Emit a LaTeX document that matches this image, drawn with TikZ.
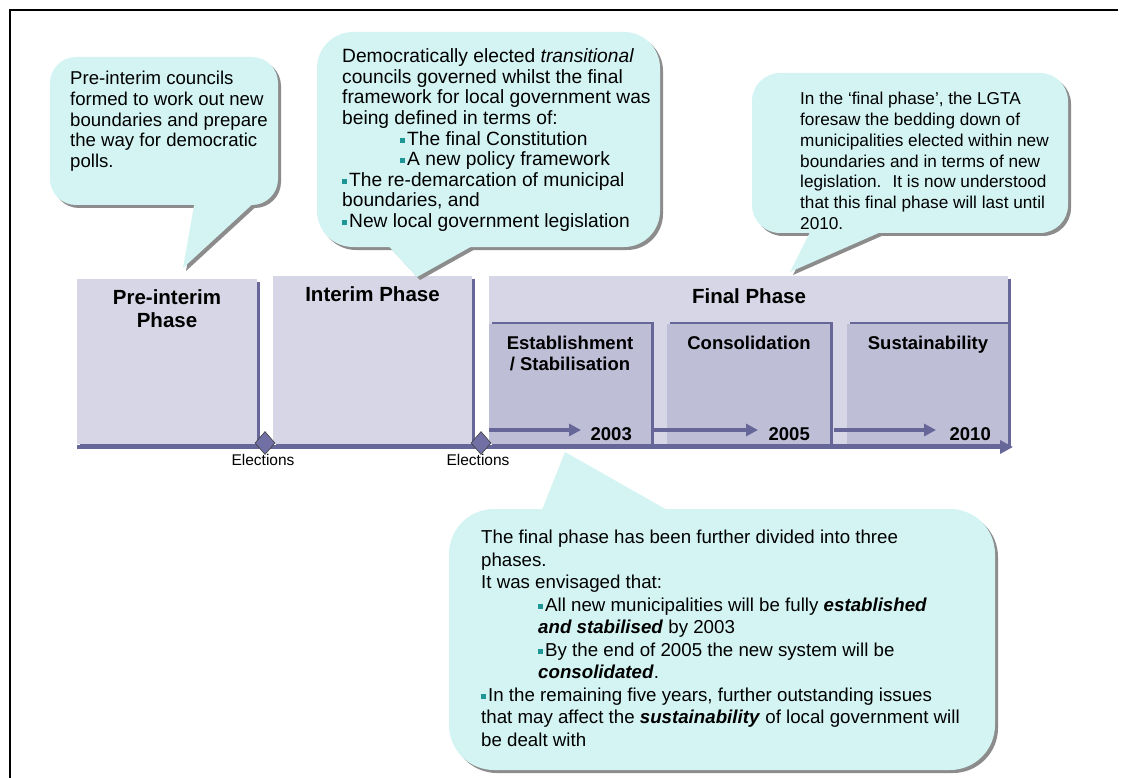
\documentclass[tikz,border=0pt]{standalone}
\usepackage{fontspec}
\setmainfont{Liberation Sans}
\usetikzlibrary{arrows.meta,shapes.geometric}
\definecolor{callfill}{RGB}{211,244,243}
\definecolor{shadowc}{RGB}{140,140,140}
\definecolor{boxlight}{RGB}{214,214,230}
\definecolor{boxdark}{RGB}{190,190,215}
\definecolor{darkc}{RGB}{102,102,153}
\definecolor{diamondc}{RGB}{112,112,165}
\definecolor{bulletc}{RGB}{30,150,150}
\newcommand{\bsq}{{\color{bulletc}\rule[2.5pt]{5pt}{5pt}}\hspace{2pt}}
\tikzset{
  x=1pt, y=-1pt,
  bodytext/.style={anchor=base west, inner sep=0pt, font=\fontsize{18.6}{20.6}\selectfont},
  bodytextm/.style={anchor=base west, inner sep=0pt, font=\fontsize{19.2}{20.6}\selectfont},
  bodytexts/.style={anchor=base west, inner sep=0pt, font=\fontsize{17.2}{20.7}\selectfont},
  bodytextb/.style={anchor=base west, inner sep=0pt, font=\fontsize{18.7}{22.5}\selectfont},
  headtext/.style={anchor=base, inner sep=0pt, font=\fontsize{20.5}{23}\selectfont\bfseries},
  subtext/.style={anchor=base, inner sep=0pt, font=\fontsize{18.5}{21}\selectfont\bfseries},
  yeartext/.style={anchor=base east, inner sep=0pt, font=\fontsize{18.5}{21}\selectfont\bfseries},
  electext/.style={anchor=base, inner sep=0pt, font=\fontsize{15.5}{18}\selectfont},
  axisline/.style={draw=darkc, line width=4.5pt, -{Triangle[length=13pt,width=13pt]}},
  subarrow/.style={draw=darkc, line width=4pt, -{Triangle[length=12pt,width=12pt]}},
  elecmark/.style={diamond, fill=diamondc, draw=black!75, line width=0.6pt, minimum width=20pt, minimum height=23pt, inner sep=0pt},
}
\begin{document}
\begin{tikzpicture}
\useasboundingbox (0,0) rectangle (1127,778);
% frame
\draw[line width=2.5pt] (10,778) -- (10,10) -- (1118,10);

% phase boxes with shadows
\fill[darkc] (80,282) rectangle (260,448);
\fill[boxlight] (77,279) rectangle (257,444);
\fill[darkc] (276,279) rectangle (475,448);
\fill[boxlight] (273,276) rectangle (472,444);
\fill[darkc] (492,279) rectangle (1011,448);
\fill[boxlight] (489,276) rectangle (1008,444);
% sub-boxes
\fill[darkc] (492,322) rectangle (654,444);
\fill[boxdark] (489,323.5) rectangle (651,444);
\fill[darkc] (670,322) rectangle (833,444);
\fill[boxdark] (667,323.5) rectangle (830,444);
\fill[darkc] (850,322) rectangle (1011,444);
\fill[boxdark] (847,323.5) rectangle (1008,444);

% axis
\coordinate (axS) at (77,447);
\coordinate (axE) at (1013,447);
\draw[axisline] (axS) -- (axE);

% sub arrows
\coordinate (a1s) at (489,430); \coordinate (a1e) at (581,430);
\coordinate (a2s) at (654,430); \coordinate (a2e) at (758,430);
\coordinate (a3s) at (834,430); \coordinate (a3e) at (936,430);
\draw[subarrow] (a1s) -- (a1e);
\draw[subarrow] (a2s) -- (a2e);
\draw[subarrow] (a3s) -- (a3e);

% labels in boxes
\node[headtext] (preL) at (167,304) {\begin{tabular}[t]{@{}c@{}}Pre-interim\\Phase\end{tabular}};
\node[headtext] (intL) at (372.5,301) {Interim Phase};
\node[headtext] (finL) at (749,303) {Final Phase};
\node[subtext] (estL) at (570,349) {\begin{tabular}[t]{@{}c@{}}Establishment\\/ Stabilisation\end{tabular}};
\node[subtext] (conL) at (749,349) {Consolidation};
\node[subtext] (susL) at (928,349) {Sustainability};
\node[yeartext] (y1) at (632,440) {2003};
\node[yeartext] (y2) at (810,440) {2005};
\node[yeartext] (y3) at (991,440) {2010};

% elections
\node[elecmark] (d1) at (265,443) {};
\node[elecmark] (d2) at (481,443) {};
\node[electext] (e1) at (263,465) {Elections};
\node[electext] (e2) at (478,465) {Elections};

% callout 1
\begin{scope}[shift={(3,3)}]
  \fill[shadowc, rounded corners=26pt] (50,57) rectangle (278,205);
  \fill[shadowc] (195,200) -- (183,268) -- (257,200) -- cycle;
\end{scope}
\fill[callfill, rounded corners=26pt] (50,57) rectangle (278,205);
\fill[callfill] (195,200) -- (183,268) -- (257,200) -- cycle;
\node[bodytext] (c1) at (70,85) {\begin{tabular}[t]{@{}l@{}}Pre-interim councils\\formed to work out new\\boundaries and prepare\\the way for democratic\\polls.\end{tabular}};

% callout 2
\begin{scope}[shift={(3,3)}]
  \fill[shadowc, rounded corners=36pt] (317,32) rectangle (660,247);
  \fill[shadowc] (383,240) -- (417,277) -- (483,240) -- cycle;
\end{scope}
\fill[callfill, rounded corners=36pt] (317,32) rectangle (660,247);
\fill[callfill] (383,240) -- (417,277) -- (483,240) -- cycle;
\node[bodytextm] (c2) at (342,62.7) {\begin{tabular}[t]{@{}l@{}}Democratically elected \textit{transitional}\\councils governed whilst the final\\framework for local government was\\being defined in terms of:\\\hspace*{58pt}\bsq The final Constitution\\\hspace*{58pt}\bsq A new policy framework\\\bsq The re-demarcation of municipal\\boundaries, and\\\bsq New local government legislation\end{tabular}};

% callout 3
\begin{scope}[shift={(3,3)}]
  \fill[shadowc, rounded corners=28pt] (752,73) rectangle (1068,233);
  \fill[shadowc] (812,228) -- (790,272) -- (890,228) -- cycle;
\end{scope}
\fill[callfill, rounded corners=28pt] (752,73) rectangle (1068,233);
\fill[callfill] (812,228) -- (790,272) -- (890,228) -- cycle;
\node[bodytexts] (c3) at (800,105) {\begin{tabular}[t]{@{}l@{}}In the ‘final phase’, the LGTA\\foresaw the bedding down of\\municipalities elected within new\\boundaries and in terms of new\\legislation. \ It is now understood\\that this final phase will last until\\2010.\end{tabular}};

% callout 4
\begin{scope}[shift={(3,3)}]
  \fill[shadowc, rounded corners=45pt] (449,509) rectangle (995,770);
  \fill[shadowc] (540,515) -- (565,452) -- (676,515) -- cycle;
\end{scope}
\fill[callfill, rounded corners=45pt] (449,509) rectangle (995,770);
\fill[callfill] (540,515) -- (565,452) -- (676,515) -- cycle;
\node[bodytextb] (c4) at (481,543.6) {\begin{tabular}[t]{@{}l@{}}The final phase has been further divided into three\\phases.\\It was envisaged that:\\\hspace*{57pt}\bsq All new municipalities will be fully \textbf{\textit{established}}\\\hspace*{57pt}\textbf{\textit{and stabilised}} by 2003\\\hspace*{57pt}\bsq By the end of 2005 the new system will be\\\hspace*{57pt}\textbf{\textit{consolidated}}.\\\bsq In the remaining five years, further outstanding issues\\that may affect the \textbf{\textit{sustainability}} of local government will\\be dealt with\end{tabular}};
\end{tikzpicture}
\end{document}
